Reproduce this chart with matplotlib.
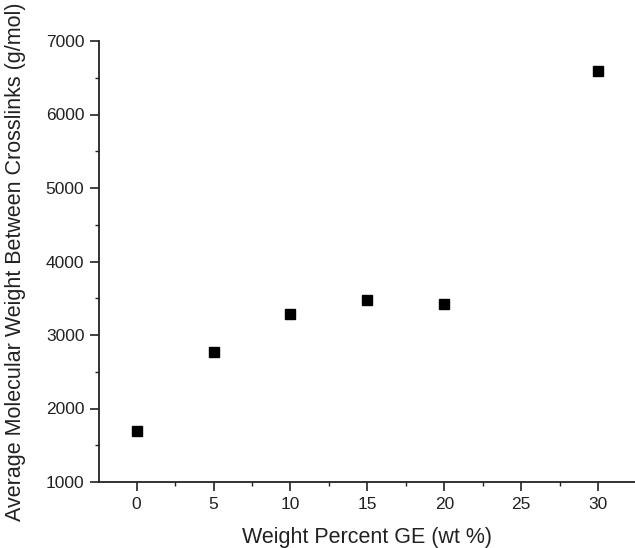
import matplotlib
matplotlib.use("Agg")
import matplotlib.pyplot as plt
from matplotlib.ticker import MultipleLocator

wt_percent = [0, 5, 10, 15, 20, 30]
mol_weight = [1690, 2770, 3285, 3480, 3425, 6590]

plt.rcParams['font.family'] = ['Liberation Sans', 'DejaVu Sans']

fig = plt.figure(figsize=(6.35, 5.48), dpi=100)
ax = fig.add_axes([99/635, 66/548, 1 - 99/635, (482-41)/548])

ax.plot(wt_percent, mol_weight, linestyle='none', marker='s', markersize=7,
        color='black', clip_on=False)

ax.set_xlim(-2.45, 32.4)
ax.set_ylim(1000, 7000)
ax.xaxis.set_major_locator(MultipleLocator(5))
ax.xaxis.set_minor_locator(MultipleLocator(2.5))
ax.yaxis.set_major_locator(MultipleLocator(1000))
ax.yaxis.set_minor_locator(MultipleLocator(500))

for s in ['top', 'right']:
    ax.spines[s].set_visible(False)
for s in ['left', 'bottom']:
    ax.spines[s].set_linewidth(1.3)
    ax.spines[s].set_color('#222222')

ax.tick_params(which='major', direction='out', length=6.5, width=1.2,
               labelsize=12.5, colors='#222222', pad=4)
ax.tick_params(which='minor', direction='out', length=3, width=1.0,
               colors='#222222')

ax.set_xlabel('Weight Percent GE (wt %)', fontsize=15.5, color='#222222')
ax.set_ylabel('Average Molecular Weight Between Crosslinks (g/mol)', fontsize=15.5,
              color='#222222')
ax.yaxis.set_label_coords((15 - 99) / 536, 0.5)
ax.xaxis.set_label_coords((367 - 99) / 536, (482 - 537) / 441)
ax.xaxis.label.set_va('center')
ax.yaxis.label.set_va('center')

fig.savefig('out.png', dpi=100)
